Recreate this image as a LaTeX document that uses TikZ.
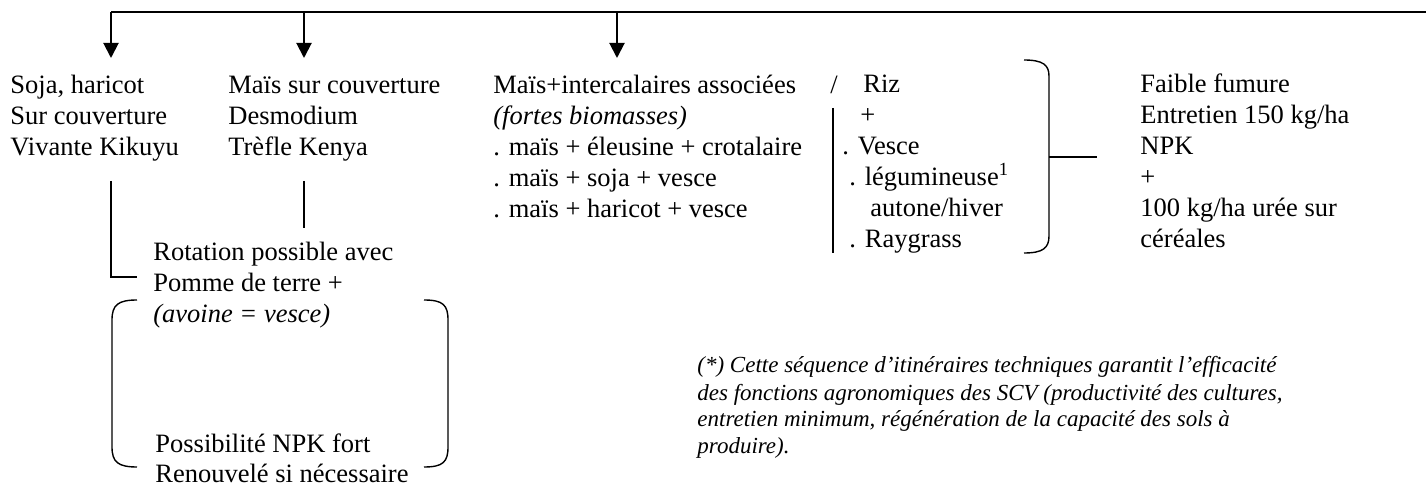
\documentclass[tikz,border=0pt]{standalone}
\usepackage{fontspec}
\setmainfont{Liberation Serif}
\usetikzlibrary{arrows.meta, positioning}
\tikzstyle{txtNode} = [inner sep=0pt, anchor=base west, align=left, font=\fontsize{13.25}{15.5}\selectfont]
\tikzstyle{noteNode} = [txtNode, font=\fontsize{11.5}{13.5}\selectfont\itshape]
\tikzstyle{arrow} = [line width=1pt, -{Triangle[length=7.5pt,width=7.5pt]}]
\tikzstyle{line} = [line width=0.7pt]

\begin{document}
\begin{tikzpicture}[x=0.5pt, y=-0.5pt]
        \useasboundingbox (0,0) rectangle (1426,486);

        % base = baseline of the last line
        \node (soja) [txtNode] at (10,156) {Soja, haricot\\Sur couverture\\Vivante Kikuyu};
        \node (mais) [txtNode] at (228,156) {Maïs sur couverture\\Desmodium\\Trèfle Kenya};
        \node (inter) [txtNode] at (493,218) {Maïs+intercalaires associées\\\textit{(fortes biomasses)}\\. maïs + éleusine + crotalaire\\. maïs + soja + vesce\\. maïs + haricot + vesce};
        \node (slash) [txtNode] at (830,94) {/};
        \node (riz) [txtNode] at (842,248) {\hspace*{10.5pt}Riz\\\hspace*{9pt}+\\{.} Vesce\\\hspace*{3.5pt}. légumineuse\textsuperscript{1}\\\hspace*{14pt}autone/hiver\\\hspace*{3.5pt}. Raygrass};
        \node (fumure) [txtNode] at (1140,248) {Faible fumure\\Entretien 150 kg/ha\\NPK\\+\\100 kg/ha urée sur\\céréales};
        \node (rotation) [txtNode] at (153,323) {Rotation possible avec\\Pomme de terre +\\\textit{(avoine = vesce)}};
        \node (npk) [txtNode] at (155,483) {Possibilité NPK fort\\Renouvelé si nécessaire};
        \node (note) [noteNode] at (697,454) {(*) Cette séquence d’itinéraires techniques garantit l’efficacité\\des fonctions agronomiques des SCV (productivité des cultures,\\entretien minimum, régénération de la capacité des sols à\\produire).};

        % top line and the three arrows
        \coordinate (t1) at (111,12);
        \coordinate (t2) at (304,12);
        \coordinate (t3) at (617,12);
        \coordinate (tEnd) at (1426,12);
        \draw [line width=1pt] (t1) -- (tEnd);
        \draw [arrow] (t1) -- (t1 |- 0,58);
        \draw [arrow] (t2) -- (t2 |- 0,58);
        \draw [arrow] (t3) -- (t3 |- 0,58);

        % links to the rotation
        \coordinate (s1) at (111,181);
        \coordinate (s2) at (137,277);
        \coordinate (m1) at (304,181);
        \coordinate (m2) at (304,228);
        \draw [line] (s1) |- (s2);
        \draw [line] (m1) -- (m2);

        % brackets round the rotation
        \draw [line] (137,300) .. controls (118,300) and (112,305) .. (112,320) -- (112,447) .. controls (112,462) and (118,467) .. (137,467);
        \draw [line] (424,300) .. controls (443,300) and (448,305) .. (448,320) -- (448,447) .. controls (448,462) and (443,467) .. (424,467);

        % separator and bracket of the cover crops
        \draw [line] (833,108) -- (833,253);
        \draw [line] (1024,60) .. controls (1043,60) and (1049,65) .. (1049,76) -- (1049,236) .. controls (1049,248) and (1043,253) .. (1024,253);
        \coordinate (b1) at (1049,157);
        \coordinate (b2) at (1097,157);
        \draw [line] (b1) -- (b2);
\end{tikzpicture}
\end{document}
